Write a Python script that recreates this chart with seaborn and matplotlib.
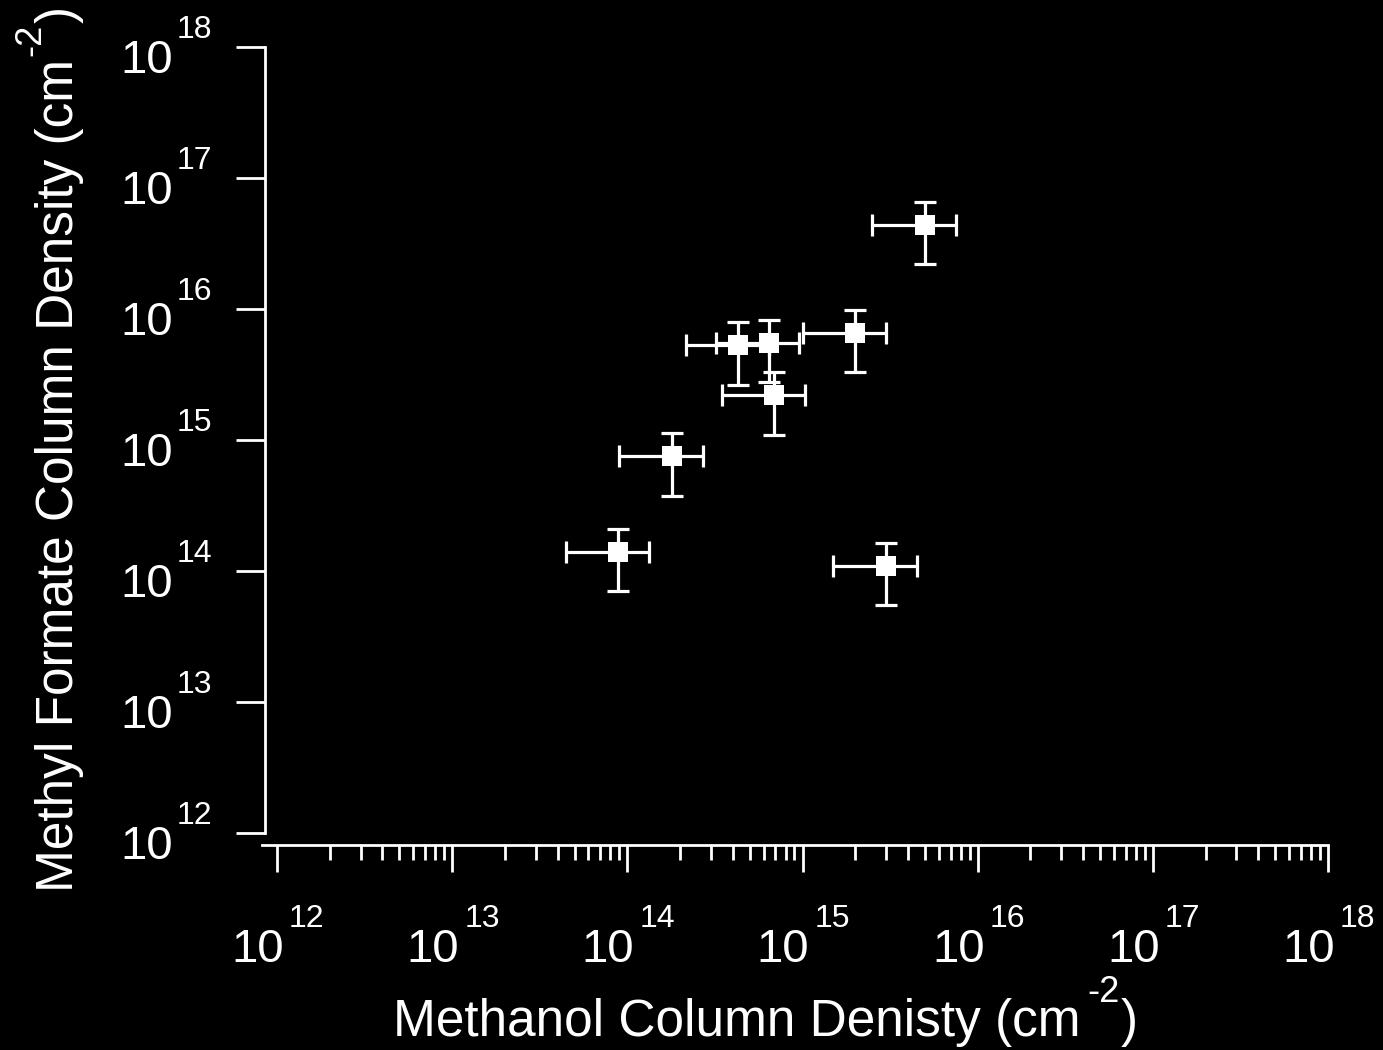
import numpy as np
import pandas as pd
import matplotlib
matplotlib.use("Agg")
import matplotlib.pyplot as plt
import seaborn as sns
from matplotlib.ticker import LogLocator, FixedLocator, NullFormatter, NullLocator

# ---- data ----
methanol = [5.0e15, 2.0e15, 4.3e14, 6.4e14, 6.9e14, 1.8e14, 8.9e13, 3.0e15]
methyl_formate = [4.4e16, 6.6e15, 5.3e15, 5.5e15, 2.2e15, 7.5e14, 1.4e14, 1.1e14]
methanol_err = [2.5e15, 1.0e15, 2.15e14, 3.2e14, 3.45e14, 9.0e13, 4.45e13, 1.5e15]
methyl_formate_err = [2.2e16, 3.3e15, 2.65e15, 2.75e15, 1.1e15, 3.75e14, 7.0e13, 5.5e13]

tick_values = [1e12, 1e13, 1e14, 1e15, 1e16, 1e17, 1e18]
tick_base = "10"
tick_exponents = ["12", "13", "14", "15", "16", "17", "18"]

xlabel_main = "Methanol Column Denisty (cm"
ylabel_main = "Methyl Formate Column Density (cm"
label_sup = "-2"
label_close = ")"

df = pd.DataFrame({"methanol": methanol, "mf": methyl_formate})

sns.set_style("ticks", rc={"axes.facecolor": "black", "figure.facecolor": "black",
                           "axes.edgecolor": "white", "xtick.color": "white",
                           "ytick.color": "white", "text.color": "white",
                           "axes.labelcolor": "white"})
plt.rcParams["font.family"] = ["Liberation Sans", "DejaVu Sans"]

W, H = 1383, 1050
fig = plt.figure(figsize=(W / 100, H / 100), dpi=100)
fig.patch.set_facecolor("black")
ax = fig.add_axes([277 / W, 1 - 833 / H, (1328 - 277) / W, (833 - 47) / H])
ax.set_facecolor("black")

ax.errorbar(methanol, methyl_formate, xerr=methanol_err, yerr=methyl_formate_err,
            fmt="none", ecolor="white", elinewidth=2.3, capsize=8, capthick=2.3, zorder=2)
sns.scatterplot(data=df, x="methanol", y="mf", marker="s", s=190, color="white",
                edgecolor="white", linewidth=0, ax=ax, zorder=3, legend=False)

ax.set_xscale("log")
ax.set_yscale("log")
ax.set_xlim(1e12, 1e18)
ax.set_ylim(1e12, 1e18)
ax.set_xlabel("")
ax.set_ylabel("")

# spines
for s in ["top", "right"]:
    ax.spines[s].set_visible(False)
ax.spines["left"].set_position(("outward", 8.6))
ax.spines["bottom"].set_position(("outward", 8.6))
ax.spines["left"].set_linewidth(2)
ax.spines["bottom"].set_linewidth(2)
ax.spines["bottom"].set_bounds(10 ** (12 - 15 / 175.17), 1e18)

# ticks
ax.xaxis.set_major_locator(FixedLocator(tick_values))
ax.xaxis.set_major_formatter(NullFormatter())
ax.xaxis.set_minor_locator(LogLocator(base=10, subs=np.arange(2, 10), numticks=100))
ax.xaxis.set_minor_formatter(NullFormatter())
ax.yaxis.set_major_locator(FixedLocator(tick_values))
ax.yaxis.set_major_formatter(NullFormatter())
ax.yaxis.set_minor_locator(NullLocator())

ax.tick_params(axis="x", which="major", direction="out", length=19.5, width=2, colors="white")
ax.tick_params(axis="x", which="minor", direction="out", length=11, width=2, colors="white")
ax.tick_params(axis="y", which="major", direction="out", length=21, width=2, colors="white")

P = 0.72  # pixels -> points at 100 dpi
BASE_FS = 34
EXP_FS = 23

# tick labels: "10" with raised exponent
for v, e in zip(tick_values, tick_exponents):
    ax.annotate(tick_base, xy=(v, 0), xycoords=("data", "axes fraction"),
                xytext=(7 * P, -129 * P), textcoords="offset points",
                ha="right", va="baseline", fontsize=BASE_FS, color="white",
                annotation_clip=False)
    ax.annotate(e, xy=(v, 0), xycoords=("data", "axes fraction"),
                xytext=(12 * P, -94 * P), textcoords="offset points",
                ha="left", va="baseline", fontsize=EXP_FS, color="white",
                annotation_clip=False)
    ax.annotate(tick_base, xy=(0, v), xycoords=("axes fraction", "data"),
                xytext=(-104 * P, -26 * P), textcoords="offset points",
                ha="right", va="baseline", fontsize=BASE_FS, color="white",
                annotation_clip=False)
    ax.annotate(e, xy=(0, v), xycoords=("axes fraction", "data"),
                xytext=(-100 * P, 9 * P), textcoords="offset points",
                ha="left", va="baseline", fontsize=EXP_FS, color="white",
                annotation_clip=False)

LABEL_FS = 37
SUP_FS = 26

# x label
xl = fig.text(393 / W, 1 - 1036 / H, xlabel_main, fontsize=LABEL_FS, color="white",
              ha="left", va="baseline")
fig.canvas.draw()
r = fig.canvas.get_renderer()
bb = xl.get_window_extent(r)
xs = fig.text((bb.x1 + 7) / W, 1 - 1002 / H, label_sup, fontsize=SUP_FS, color="white",
              ha="left", va="baseline")
bb2 = xs.get_window_extent(r)
fig.text((bb2.x1 + 1) / W, 1 - 1036 / H, label_close, fontsize=LABEL_FS, color="white",
         ha="left", va="baseline")

# y label (rotated)
yl = fig.text(73 / W, 1 - 892 / H, ylabel_main, fontsize=LABEL_FS, color="white",
              ha="left", va="baseline", rotation=90, rotation_mode="anchor")
bb = yl.get_window_extent(r)
ys = fig.text(40 / W, (bb.y1 + 3) / H, label_sup, fontsize=SUP_FS, color="white",
              ha="left", va="baseline", rotation=90, rotation_mode="anchor")
bb2 = ys.get_window_extent(r)
fig.text(73 / W, (bb2.y1 + 1) / H, label_close, fontsize=LABEL_FS, color="white",
         ha="left", va="baseline", rotation=90, rotation_mode="anchor")

fig.savefig("out.png", dpi=100, facecolor="black")
